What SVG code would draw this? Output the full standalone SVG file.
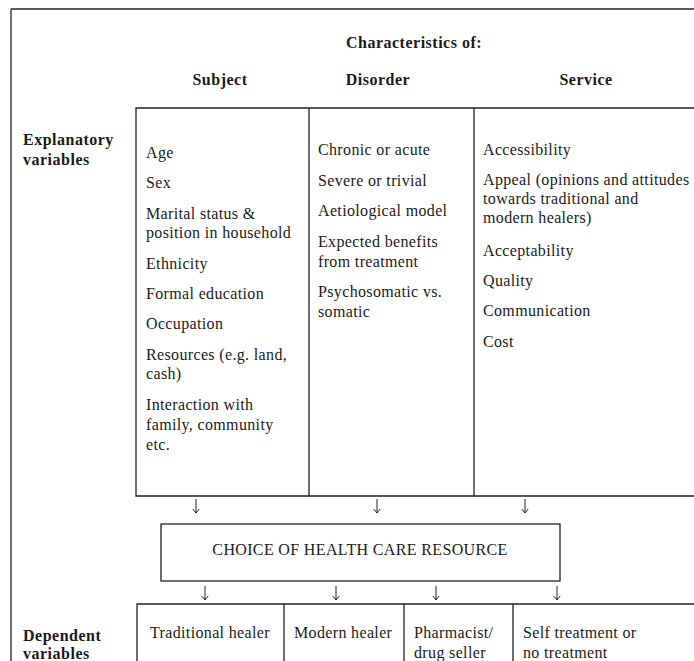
<svg xmlns="http://www.w3.org/2000/svg" width="694" height="661" viewBox="0 0 694 661">
<defs>
<marker id="ah" markerWidth="8" markerHeight="8" refX="7" refY="4" orient="auto" markerUnits="userSpaceOnUse" viewBox="0 0 8 8">
<polyline points="3,0.8 7,4 3,7.2" fill="none" stroke="#222" stroke-width="1"/>
</marker>
</defs>
<style>
text{font-family:"Liberation Serif","Times New Roman",serif;fill:#1a1a1a;font-size:16px;letter-spacing:0.35px}
.b{font-weight:bold;letter-spacing:0.5px}
.ln{stroke:#222;stroke-width:1.3;fill:none}
.ar{stroke:#222;stroke-width:1;fill:none;marker-end:url(#ah)}
</style>
<rect width="694" height="661" fill="#fff"/>
<g id="frame">
<line class="ln" x1="11" y1="9" x2="694" y2="9"/>
<line class="ln" x1="11" y1="9" x2="11" y2="661"/>
</g>
<g id="headers">
<text class="b" x="414" y="48" text-anchor="middle">Characteristics of:</text>
<text class="b" x="220" y="85" text-anchor="middle">Subject</text>
<text class="b" x="378" y="85" text-anchor="middle">Disorder</text>
<text class="b" x="586" y="85" text-anchor="middle">Service</text>
<text class="b" x="23" y="145">Explanatory</text>
<text class="b" x="23" y="165">variables</text>
<text class="b" x="23" y="641">Dependent</text>
<text class="b" x="23" y="659">variables</text>
</g>
<g id="subject">
<path class="ln" d="M309,108 H136 V496 H309"/>
<text x="146" y="158">Age</text>
<text x="146" y="188">Sex</text>
<text x="146" y="219">Marital status &amp;</text>
<text x="146" y="238">position in household</text>
<text x="146" y="269">Ethnicity</text>
<text x="146" y="299">Formal education</text>
<text x="146" y="329">Occupation</text>
<text x="146" y="360">Resources (e.g. land,</text>
<text x="146" y="379">cash)</text>
<text x="146" y="410">Interaction with</text>
<text x="146" y="430">family, community</text>
<text x="146" y="450">etc.</text>
</g>
<g id="disorder">
<path class="ln" d="M309,108 H474 M309,108 V496 H474"/>
<text x="318" y="155">Chronic or acute</text>
<text x="318" y="186">Severe or trivial</text>
<text x="318" y="216">Aetiological model</text>
<text x="318" y="247">Expected benefits</text>
<text x="318" y="267">from treatment</text>
<text x="318" y="297">Psychosomatic vs.</text>
<text x="318" y="317">somatic</text>
</g>
<g id="service">
<path class="ln" d="M474,108 H694 M474,108 V496 H694"/>
<text x="483" y="155">Accessibility</text>
<text x="483" y="185">Appeal (opinions and attitudes</text>
<text x="483" y="204">towards traditional and</text>
<text x="483" y="223">modern healers)</text>
<text x="483" y="256">Acceptability</text>
<text x="483" y="286">Quality</text>
<text x="483" y="316">Communication</text>
<text x="483" y="347">Cost</text>
</g>
<g id="choice">
<rect class="ln" x="161" y="524" width="399" height="57"/>
<text x="360" y="555" text-anchor="middle">CHOICE OF HEALTH CARE RESOURCE</text>
</g>
<g id="outcomes">
<path class="ln" d="M137,661 V604 H694 M284,604 V661 M404,604 V661 M513,604 V661"/>
<text x="150" y="638">Traditional healer</text>
<text x="294" y="638">Modern healer</text>
<text x="414" y="638">Pharmacist/</text>
<text x="414" y="658">drug seller</text>
<text x="523" y="638">Self treatment or</text>
<text x="523" y="658">no treatment</text>
</g>
<g id="connectors">
<line class="ar" x1="196" y1="499" x2="196" y2="513"/>
<line class="ar" x1="377" y1="499" x2="377" y2="513"/>
<line class="ar" x1="525" y1="499" x2="525" y2="513"/>
<line class="ar" x1="205" y1="586" x2="205" y2="600"/>
<line class="ar" x1="336" y1="586" x2="336" y2="600"/>
<line class="ar" x1="436" y1="586" x2="436" y2="600"/>
<line class="ar" x1="557" y1="586" x2="557" y2="600"/>
</g>
</svg>
